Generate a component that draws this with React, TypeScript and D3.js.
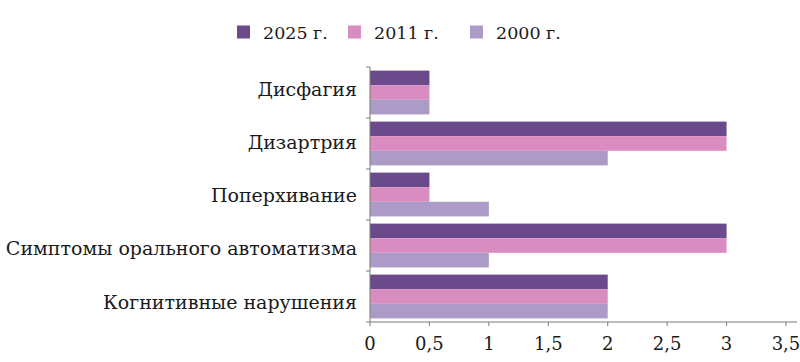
import React from "react";
import * as d3 from "d3";

const categories = ["Дисфагия", "Дизартрия", "Поперхивание", "Симптомы орального автоматизма", "Когнитивные нарушения"];
const seriesNames = ["2025 г.", "2011 г.", "2000 г."];
const values2025 = [0.5, 3, 0.5, 3, 2];
const values2011 = [0.5, 3, 0.5, 3, 2];
const values2000 = [0.5, 2, 1, 1, 2];
const xTicks = [0, 0.5, 1, 1.5, 2, 2.5, 3, 3.5];
const colors = ["#6b4a8b", "#d98cbf", "#ab9bc6"];

const seriesValues = [values2025, values2011, values2000];

export default function App() {
  const W = 800, H = 362;
  const x = d3.scaleLinear().domain([0, 3.5]).range([370, 786]);
  const y = d3.scaleBand<string>().domain(categories).range([67, 322]).padding(0);
  const labelY = d3.scalePoint<string>().domain(categories).range([96, 308.5]);
  const bw = y.bandwidth();
  const pad = 3.6;
  const sub = d3.scaleBand<string>().domain(seriesNames).range([pad, bw - pad]).padding(0);
  const font = '"DejaVu Serif", serif';
  const axisColor = "#7a7a7a";
  const legendX = [237, 348, 470];
  const fs = 19;

  return (
    <svg width={W} height={H} style={{ position: "absolute", left: 0, top: 0, background: "#fff", fontFamily: font }}>
      {/* legend */}
      {seriesNames.map((s, i) => (
        <g key={s}>
          <rect x={legendX[i]} y={25.5} width={13} height={13} fill={colors[i]} />
          <text x={legendX[i] + 26} y={38.5} fontSize={17.5} fill="#1a1a1a">{s}</text>
        </g>
      ))}
      {/* bars */}
      {categories.map((c, ci) => (
        <g key={c} transform={`translate(0,${y(c)})`}>
          {seriesNames.map((s, si) => (
            <rect key={s} x={x(0)} y={sub(s)} width={x(seriesValues[si][ci]) - x(0)} height={sub.bandwidth()} fill={colors[si]} />
          ))}
        </g>
      ))}
      {/* y axis */}
      <line x1={x(0)} x2={x(0)} y1={67} y2={322} stroke={axisColor} strokeWidth={1} />
      {d3.range(categories.length + 1).map((i) => {
        const yy = 67 + i * bw;
        return <line key={i} x1={x(0) - 4} x2={x(0)} y1={yy} y2={yy} stroke={axisColor} strokeWidth={1} />;
      })}
      {categories.map((c) => (
        <text key={c} x={357} y={labelY(c)} textAnchor="end" fontSize={fs} fill="#1a1a1a">{c}</text>
      ))}
      {/* x axis */}
      <line x1={x(0)} x2={797} y1={322} y2={322} stroke={axisColor} strokeWidth={1} />
      {xTicks.map((t) => (
        <g key={t}>
          <line x1={x(t)} x2={x(t)} y1={322} y2={326} stroke={axisColor} strokeWidth={1} />
          <text x={x(t)} y={350} textAnchor="middle" fontSize={18} fill="#1a1a1a">{String(t).replace(".", ",")}</text>
        </g>
      ))}
    </svg>
  );
}
